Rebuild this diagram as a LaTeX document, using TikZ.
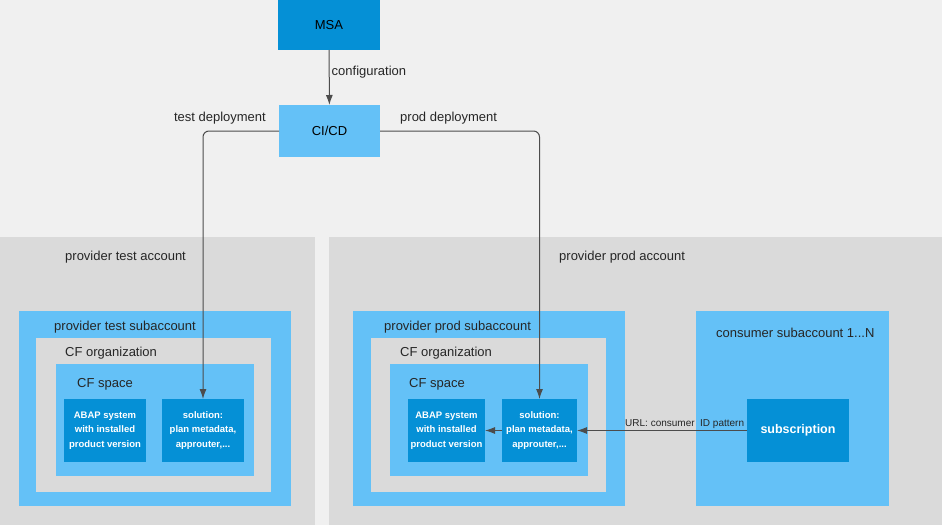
\documentclass[tikz,border=0pt]{standalone}
\usepackage{fontspec}
\setmainfont{Liberation Sans}
\usetikzlibrary{arrows.meta}

\definecolor{darkblue}{HTML}{0590D6}
\definecolor{lightblue}{HTML}{64C1F7}
\definecolor{panelgray}{HTML}{DADADA}
\definecolor{topgray}{HTML}{F0F0F0}

\begin{document}
\begin{tikzpicture}[x=1pt, y=-1pt,
    box/.style={anchor=north west, inner sep=0pt, outer sep=0pt, draw=none},
    lbl/.style={anchor=west, inner sep=0pt, font=\fontsize{13}{15}\selectfont, text=black!85},
    small/.style={font=\fontsize{9.5}{14.5}\selectfont\bfseries, text=white, align=center},
    conn/.style={draw=black!70, line width=1pt, -{Latex[length=10pt, width=7pt]}}]

    % backgrounds
    \fill[topgray] (0,0) rectangle (942,525);
    \node[box, fill=panelgray, minimum width=315, minimum height=288] (testacc) at (0,237) {};
    \node[box, fill=panelgray, minimum width=613, minimum height=288] (prodacc) at (329,237) {};

    \node[box, fill=darkblue, minimum width=102, minimum height=50, font=\fontsize{13}{15}\selectfont] (msa) at (278,0) {MSA};
    \node[box, fill=lightblue, minimum width=101, minimum height=52, font=\fontsize{13}{15}\selectfont] (cicd) at (279,105) {CI/CD};

    % provider test account
    \node[box, fill=lightblue, minimum width=272, minimum height=195] (testsub) at (19,311) {};
    \node[box, fill=panelgray, minimum width=235, minimum height=154] (testorg) at (36,338) {};
    \node[box, fill=lightblue, minimum width=198, minimum height=112] (testspace) at (56,364) {};
    \node[box, fill=darkblue, minimum width=82, minimum height=63, small] (testabap) at (64,399)
        {ABAP system\\with installed\\product version};
    \node[box, fill=darkblue, minimum width=82, minimum height=63, small] (testsol) at (162,399)
        {solution:\\plan metadata,\\approuter,...};

    % provider prod account
    \node[box, fill=lightblue, minimum width=272, minimum height=195] (prodsub) at (353,311) {};
    \node[box, fill=panelgray, minimum width=235, minimum height=154] (prodorg) at (371,338) {};
    \node[box, fill=lightblue, minimum width=198, minimum height=112] (prodspace) at (390,364) {};
    \node[box, fill=darkblue, minimum width=77, minimum height=63, small] (prodabap) at (408,399)
        {ABAP system\\with installed\\product version};
    \node[box, fill=darkblue, minimum width=75, minimum height=63, small] (prodsol) at (502,399)
        {solution:\\plan metadata,\\approuter,...};

    % consumer
    \node[box, fill=lightblue, minimum width=193, minimum height=195] (consub) at (696,311) {};
    \node[box, fill=darkblue, minimum width=102, minimum height=63, text=white,
        font=\fontsize{12.5}{14}\selectfont\bfseries] (subscr) at (747,399) {subscription};

    % labels
    \node[lbl] (testacclbl) at (65,257) {provider test account};
    \node[lbl] (prodacclbl) at (559,257) {provider prod account};
    \node[lbl] (testsublbl) at (54,327) {provider test subaccount};
    \node[lbl] (testorglbl) at (65,353) {CF organization};
    \node[lbl] (testspacelbl) at (77,384) {CF space};
    \node[lbl] (prodsublbl) at (384,327) {provider prod subaccount};
    \node[lbl] (prodorglbl) at (400,353) {CF organization};
    \node[lbl] (prodspacelbl) at (409,384) {CF space};
    \node[lbl] (consublbl) at (716,333) {consumer subaccount 1...N};

    % connectors
    \draw[conn] (msa) -- (cicd) node[lbl, pos=0.4, xshift=2pt] {configuration};
    \draw[conn, rounded corners=6pt] (cicd.west) -| (testsol.north);
    \draw[conn, rounded corners=6pt] (cicd.east) -| (prodsol.north);
    \draw[conn] (subscr) -- (prodsol);
    \draw[conn] (prodsol) -- (prodabap);

    \node[lbl, anchor=east] (testdep) at (266,118) {test deployment};
    \node[lbl] (proddep) at (400,118) {prod deployment};
    \node[lbl, font=\fontsize{10}{12}\selectfont] (urllbl) at (625,424) {URL: consumer\ \ ID pattern};
\end{tikzpicture}
\end{document}
